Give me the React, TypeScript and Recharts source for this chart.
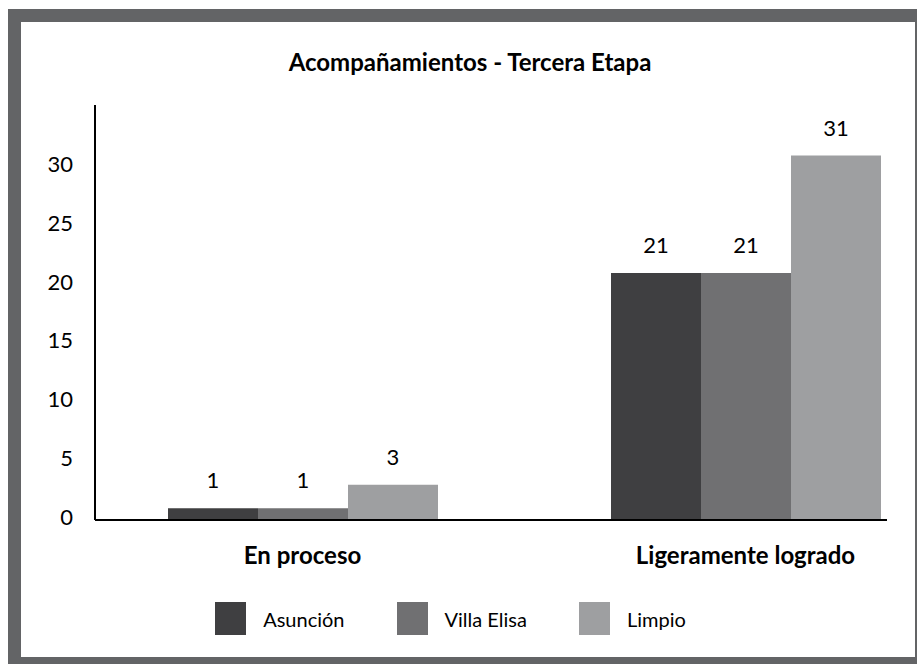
import React from 'react';
import { BarChart, Bar, XAxis, YAxis, Legend, LabelList } from 'recharts';

const categories = ['En proceso', 'Ligeramente logrado'];
const asuncion = [1, 21];
const villaElisa = [1, 21];
const limpio = [3, 31];
const yTicks = [0, 5, 10, 15, 20, 25, 30];

const series = [
  { key: 'asuncion', name: 'Asunción', color: '#3f3f41' },
  { key: 'villaElisa', name: 'Villa Elisa', color: '#707072' },
  { key: 'limpio', name: 'Limpio', color: '#9e9fa1' },
];

const data = categories.map((c, i) => ({
  idx: i,
  name: c,
  asuncion: asuncion[i],
  villaElisa: villaElisa[i],
  limpio: limpio[i],
}));

const FONT = 'Lato, "DejaVu Sans", sans-serif';

const renderLegend = () => (
  <div
    style={{
      display: 'flex',
      justifyContent: 'center',
      alignItems: 'center',
      height: 33,
      paddingRight: 16,
      fontFamily: FONT,
      fontSize: 20,
      color: '#000',
    }}
  >
    {series.map((s, i) => (
      <div key={s.key} style={{ display: 'flex', alignItems: 'center', marginRight: i < series.length - 1 ? 52 : 0 }}>
        <div style={{ width: 31, height: 33, background: s.color, marginRight: 17 }} />
        <span>{s.name}</span>
      </div>
    ))}
  </div>
);

const App: React.FC = () => {
  return (
    <div style={{ position: 'fixed', left: 0, top: 0, width: 917, height: 664, background: '#fff', overflow: 'hidden' }}>
      {/* gray frame, partly cut by the page edge */}
      <div
        style={{
          position: 'absolute',
          left: 8,
          top: 9,
          width: 909,
          height: 655,
          boxSizing: 'border-box',
          borderStyle: 'solid',
          borderColor: '#636466',
          borderWidth: '13px 2px 7px 13px',
        }}
      />
      <div
        style={{
          position: 'absolute',
          left: 220,
          top: 48,
          width: 500,
          textAlign: 'center',
          fontFamily: FONT,
          fontWeight: 700,
          fontSize: 24,
          lineHeight: '28px',
          color: '#000',
        }}
      >
        Acompañamientos - Tercera Etapa
      </div>
      <div style={{ position: 'absolute', left: 0, top: 0 }}>
        <BarChart
          width={917}
          height={664}
          data={data}
          margin={{ top: 105, right: 30, bottom: 29, left: 35 }}
          barGap={0}
          barSize={90}
          style={{ fontFamily: FONT }}
        >
          <XAxis
            dataKey="idx"
            type="number"
            domain={[-0.4684, 1.3194]}
            ticks={[0, 1]}
            tickFormatter={(v: number) => categories[v] ?? ''}
            height={82}
            axisLine={{ stroke: '#000', strokeWidth: 2 }}
            tickLine={false}
            tickSize={0}
            tickMargin={27}
            tick={{ fill: '#000', fontSize: 24, fontWeight: 700 }}
          />
          <YAxis
            type="number"
            domain={[0, 35.3]}
            ticks={yTicks}
            width={60}
            axisLine={{ stroke: '#000', strokeWidth: 2 }}
            tickLine={false}
            tickSize={0}
            tickMargin={22}
            tick={{ fill: '#000', fontSize: 22, dy: -3 }}
          />
          <Legend verticalAlign="bottom" wrapperStyle={{ left: 0, width: 917 }} content={renderLegend} />
          {series.map((s) => (
            <Bar key={s.key} dataKey={s.key} name={s.name} fill={s.color} isAnimationActive={false}>
              <LabelList dataKey={s.key} position="top" offset={20} fill="#000" fontSize={22} />
            </Bar>
          ))}
        </BarChart>
      </div>
    </div>
  );
};

export default App;
